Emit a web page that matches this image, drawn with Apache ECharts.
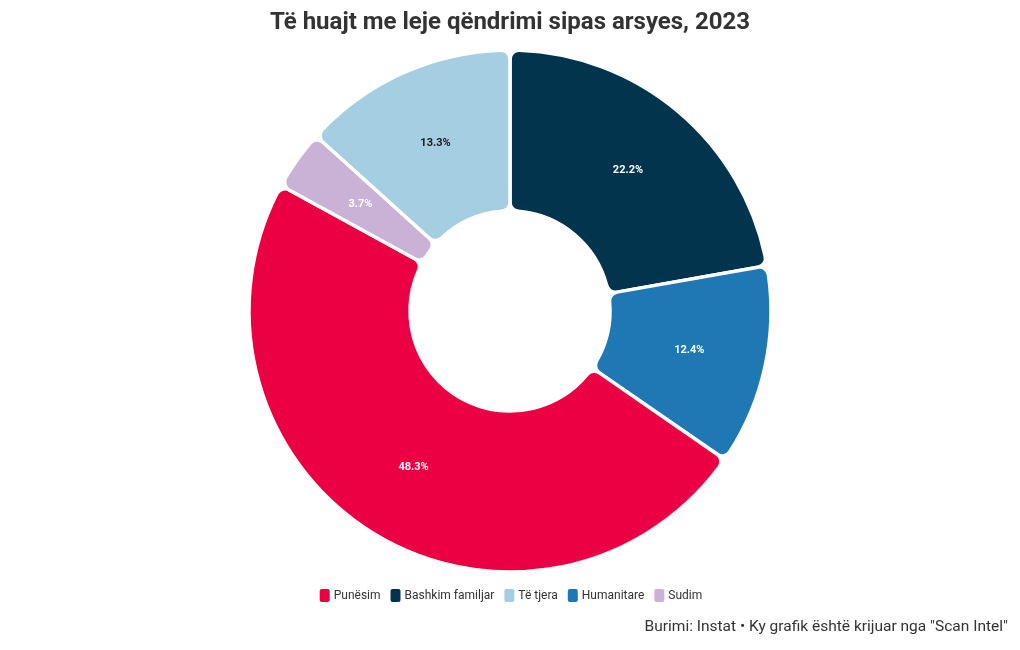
<!DOCTYPE html>
<html>
<head>
<meta charset="utf-8">
<script src="https://cdn.jsdelivr.net/npm/echarts@6/dist/echarts.min.js"></script>
<style>html,body{margin:0;padding:0;background:#fff}#c{width:1020px;height:650px}</style>
</head>
<body>
<div id="c"></div>
<script>
const categories = ['Bashkim familjar', 'Humanitare', 'Punësim', 'Sudim', 'Të tjera'];
const values = [22.2, 12.4, 48.3, 3.7, 13.3];
const legendOrder = ['Punësim', 'Bashkim familjar', 'Të tjera', 'Humanitare', 'Sudim'];
const colors = { 'Bashkim familjar': '#02344d', 'Humanitare': '#1f78b4', 'Punësim': '#eb0044', 'Sudim': '#cab2d6', 'Të tjera': '#a6cee3' };
const labelColors = { 'Të tjera': '#1a1a1a' };

const chart = echarts.init(document.getElementById('c'));
const FONT = 'Roboto, "DejaVu Sans", sans-serif';
chart.setOption({
  animation: false,
  title: {
    text: 'Të huajt me leje qëndrimi sipas arsyes, 2023',
    left: 'center', top: 6,
    textStyle: { fontFamily: FONT, fontSize: 24, fontWeight: 'bold', color: '#333' }
  },
  legend: {
    data: legendOrder, bottom: 41, left: 'center',
    icon: 'roundRect', itemWidth: 12, itemHeight: 15, itemGap: 8,
    textStyle: { fontFamily: FONT, fontSize: 12, color: '#333', padding: [0, 0, 0, -2] }
  },
  graphic: [{
    type: 'text', right: 12, top: 619,
    style: { text: 'Burimi: Instat • Ky grafik është krijuar nga "Scan Intel"', font: '15.5px ' + FONT, fill: '#333' }
  }],
  series: [{
    type: 'pie',
    center: [510, 311],
    radius: [100, 261],
    startAngle: 90,
    clockwise: true,
    data: categories.map((c, i) => ({
      name: c, value: values[i],
      itemStyle: { color: colors[c] },
      label: { color: labelColors[c] || '#fff' }
    })),
    itemStyle: { borderColor: '#fff', borderWidth: 3.5, borderRadius: 9 },
    label: {
      show: true, position: 'inside',
      formatter: p => p.value.toFixed(1) + '%',
      fontFamily: FONT, fontSize: 11, fontWeight: 'bold'
    },
    labelLine: { show: false },
    emphasis: { disabled: true }
  }]
});
</script>
</body>
</html>
